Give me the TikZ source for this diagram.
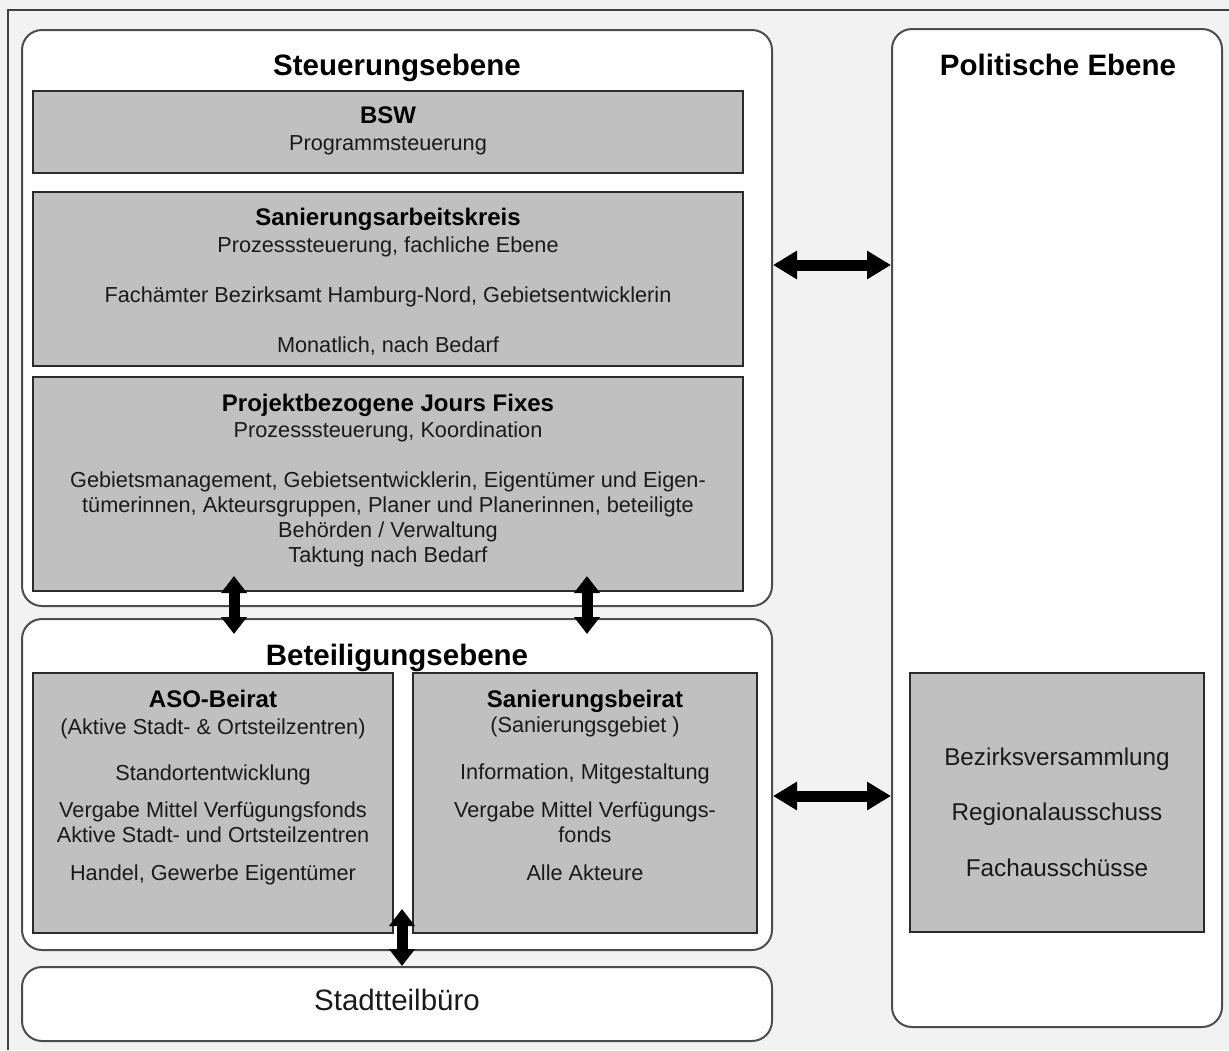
\documentclass[tikz,border=0pt]{standalone}
\usepackage{fontspec}
\setmainfont{Liberation Sans}
\usetikzlibrary{arrows.meta,fit}
\definecolor{bgc}{HTML}{F2F2F2}
\definecolor{boxfill}{HTML}{C0C0C0}
\definecolor{boxline}{HTML}{2B2B2B}
\definecolor{rline}{HTML}{4D4D4D}
\definecolor{txt}{HTML}{1A1A1A}
\begin{document}
\begin{tikzpicture}[x=1pt,y=-1pt,
  rbox/.style={draw=rline,line width=2pt,fill=white,rounded corners=20pt,inner sep=0pt},
  gbox/.style={draw=boxline,line width=2pt,fill=boxfill,inner sep=0pt},
  body/.style={text=txt,inner sep=0pt,anchor=center,text height=15.6pt,text depth=0pt,font=\fontsize{21.7}{25}\selectfont},
  sub/.style={text=black,inner sep=0pt,anchor=center,text height=17.3pt,text depth=0pt,font=\fontsize{24}{28}\selectfont\bfseries},
  ttl/.style={text=black,inner sep=0pt,anchor=center,text height=21.2pt,text depth=0pt,font=\fontsize{29.5}{34}\selectfont\bfseries},
  pol/.style={text=txt,inner sep=0pt,anchor=center,text height=17.3pt,text depth=0pt,font=\fontsize{24.3}{28}\selectfont},
  stb/.style={text=txt,inner sep=0pt,anchor=center,text height=21pt,text depth=0pt,font=\fontsize{29.5}{34}\selectfont},
  dbl/.style={line width=11pt,{Triangle[width=27pt,length=24pt]}-{Triangle[width=27pt,length=24pt]}},
  vdbl/.style={line width=11pt,{Triangle[width=25pt,length=17pt]}-{Triangle[width=25pt,length=17pt]}}
]
\useasboundingbox (0,0) rectangle (1229,1050);
\fill[bgc] (0,0) rectangle (1229,1050);
\draw[black!75,line width=1.5pt] (1229,10) -- (8,10) -- (8,1050);

% containers
\node[rbox,fit={(22,30) (772,606)}] (steu) {};
\node[rbox,fit={(22,619) (772,950)}] (bet) {};
\node[rbox,fit={(22,967) (772,1041)}] (stb) {};
\node[rbox,fit={(892,29) (1222,1027)}] (pole) {};

% grey boxes
\node[gbox,fit={(33,91) (743,173)}] (bsw) {};
\node[gbox,fit={(33,192) (743,366)}] (sak) {};
\node[gbox,fit={(33,377) (743,591)}] (jf) {};
\node[gbox,fit={(33,673) (393,933)}] (aso) {};
\node[gbox,fit={(413,673) (757,933)}] (sb) {};
\node[gbox,fit={(910,673) (1204,932)}] (bv) {};

% texts
\node[ttl] (t1) at (397,65) {Steuerungsebene};
\node[sub] (t2) at (388,115) {BSW};
\node[body] (t3) at (388,143) {Programmsteuerung};
\node[sub] (t4) at (388,217) {Sanierungsarbeitskreis};
\node[body] (t5) at (388,245) {Prozesssteuerung, fachliche Ebene};
\node[body] (t6) at (388,295) {Fachämter Bezirksamt Hamburg-Nord, Gebietsentwicklerin};
\node[body] (t7) at (388,345) {Monatlich, nach Bedarf};
\node[sub] (t8) at (388,403) {Projektbezogene Jours Fixes};
\node[body] (t9) at (388,430) {Prozesssteuerung, Koordination};
\node[body] (t10) at (388,480) {Gebietsmanagement, Gebietsentwicklerin, Eigentümer und Eigen-};
\node[body] (t11) at (388,505) {tümerinnen, Akteursgruppen, Planer und Planerinnen, beteiligte};
\node[body] (t12) at (388,530) {Behörden / Verwaltung};
\node[body] (t13) at (388,555) {Taktung nach Bedarf};

\node[ttl] (t14) at (397,655) {Beteiligungsebene};
\node[sub] (t15) at (213,699) {ASO-Beirat};
\node[body] (t16) at (213,727) {(Aktive Stadt- \& Ortsteilzentren)};
\node[body] (t17) at (213,773) {Standortentwicklung};
\node[body] (t18) at (213,810) {Vergabe Mittel Verfügungsfonds};
\node[body] (t19) at (213,835) {Aktive Stadt- und Ortsteilzentren};
\node[body] (t20) at (213,873) {Handel, Gewerbe Eigentümer};
\node[sub] (t21) at (585,699) {Sanierungsbeirat};
\node[body] (t22) at (585,725) {(Sanierungsgebiet )};
\node[body] (t23) at (585,772) {Information, Mitgestaltung};
\node[body] (t24) at (585,810) {Vergabe Mittel Verfügungs-};
\node[body] (t25) at (585,835) {fonds};
\node[body] (t26) at (585,873) {Alle Akteure};

\node[ttl] (t27) at (1058,65) {Politische Ebene};
\node[pol] (t28) at (1057,757) {Bezirksversammlung};
\node[pol] (t29) at (1057,812) {Regionalausschuss};
\node[pol] (t30) at (1057,868) {Fachausschüsse};

\node[stb] (t31) at (397,1000) {Stadtteilbüro};

% connectors
\draw[dbl] (steu.east |- 0,265) -- (pole.west |- 0,265);
\draw[dbl] (bet.east |- 0,796) -- (pole.west |- 0,796);
\draw[vdbl] ([yshift=16pt]jf.south -| 234,0) -- ([yshift=-16pt]bet.north -| 234,0);
\draw[vdbl] ([yshift=16pt]jf.south -| 587,0) -- ([yshift=-16pt]bet.north -| 587,0);
\draw[vdbl] ([yshift=42pt]bet.south -| 402,0) -- (stb.north -| 402,0);
\end{tikzpicture}
\end{document}
